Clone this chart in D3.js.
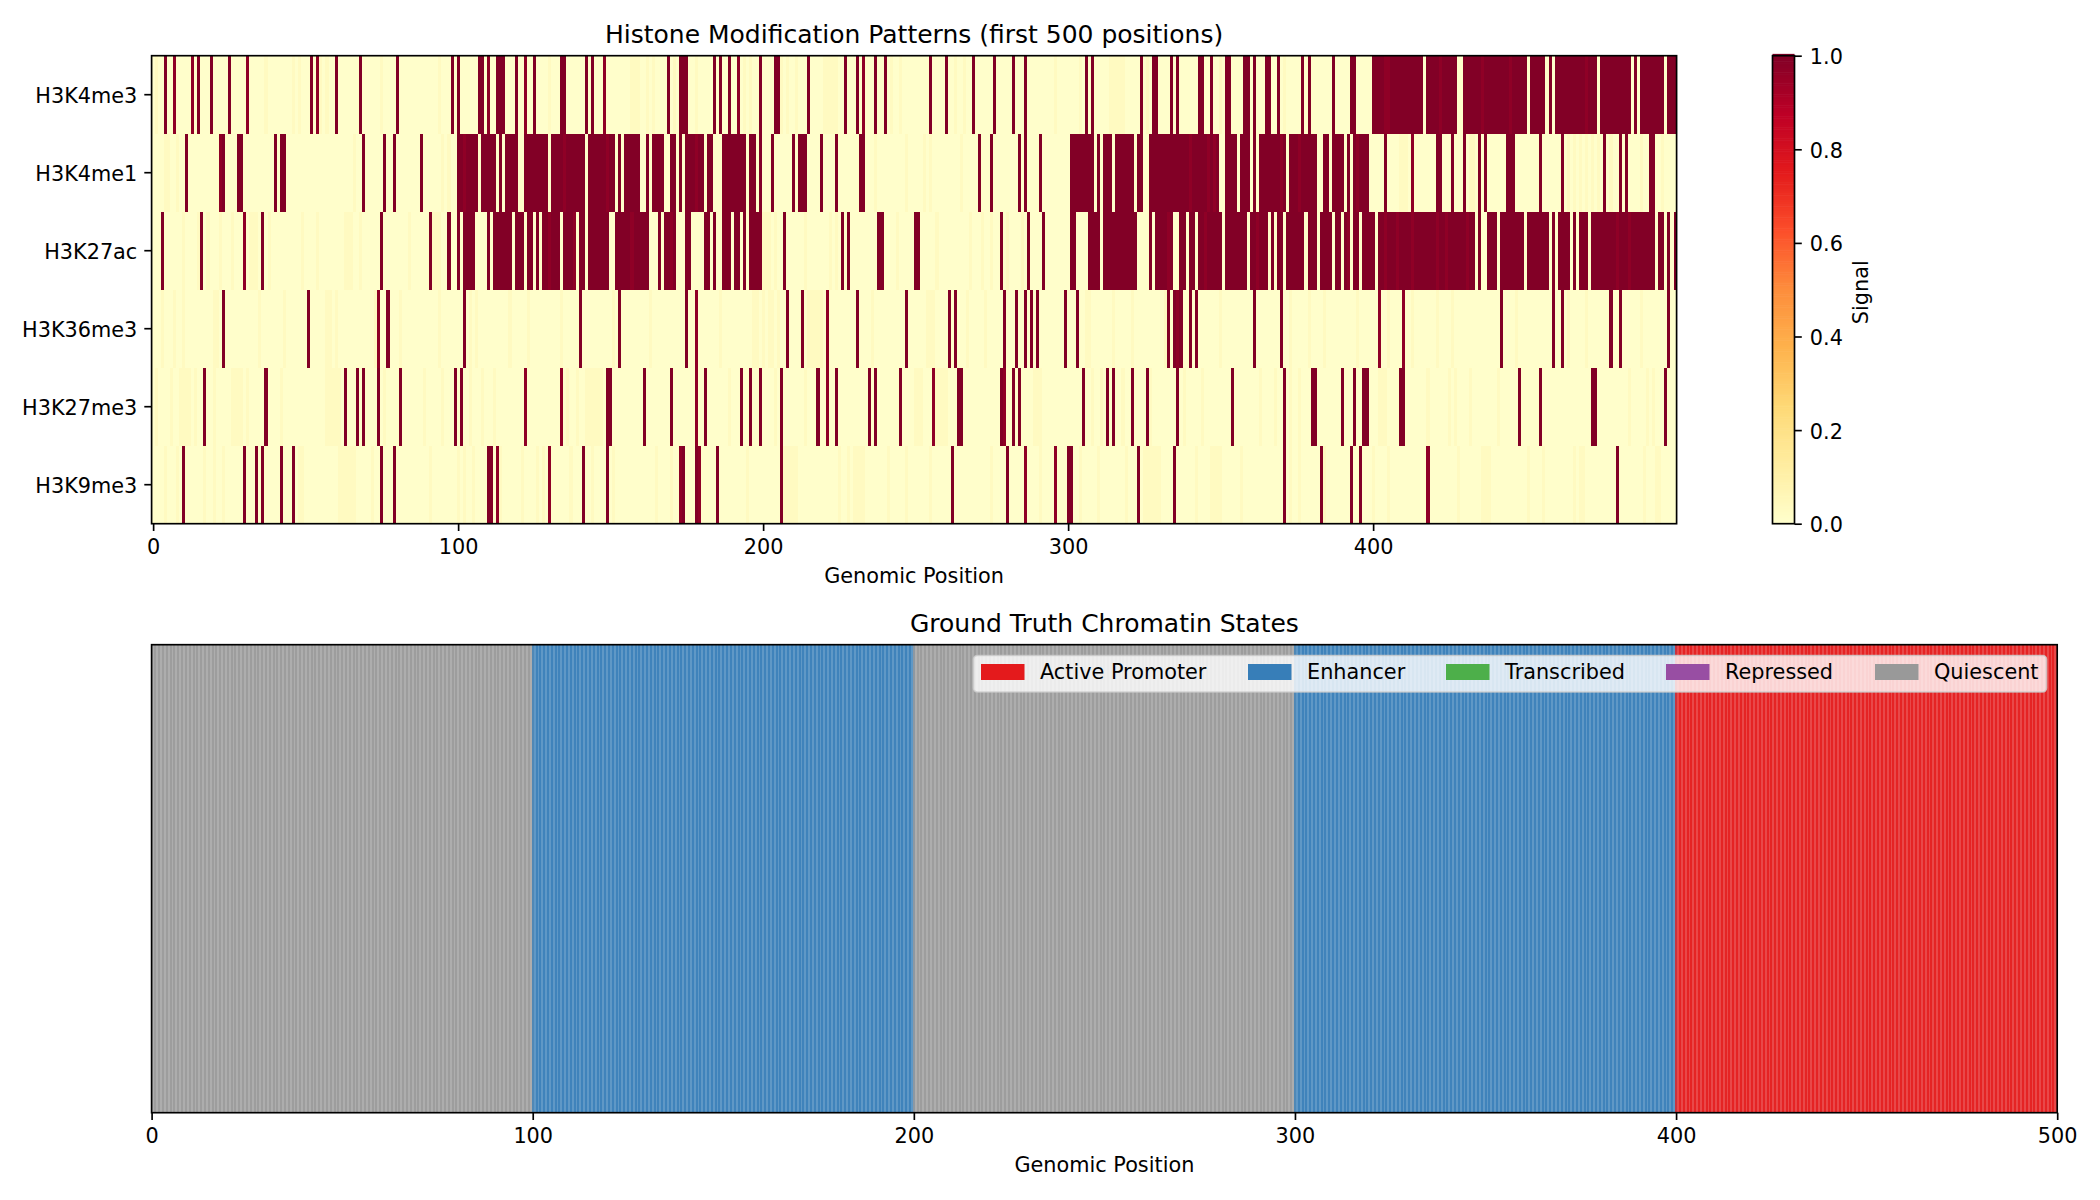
<!DOCTYPE html>
<html>
<head>
<meta charset="utf-8">
<title>Chromatin states</title>
<script src="https://cdn.jsdelivr.net/npm/d3@7/dist/d3.min.js"></script>
<style>
  html, body { margin: 0; padding: 0; background: #fff; }
  svg { display: block; }
  text { font-family: "DejaVu Sans", sans-serif; fill: #000; }
</style>
</head>
<body>
<svg id="chart" width="2100" height="1200"></svg>
<script>
// Histone marks, top row first
const marks = ["H3K4me3", "H3K4me1", "H3K27ac", "H3K36me3", "H3K27me3", "H3K9me3"];

// Positions with a strong signal; a pair is an inclusive run of positions
const h3k4me3Peaks = [4,7,13,15,19,25,31,52,54,60,68,80,98,100,[107,108],110,[113,115],119,122,125,[134,135],142,144,148,169,[173,175],184,186,189,192,199,[204,205],215,227,231,233,237,240,255,260,269,276,282,286,306,308,324,[328,329],334,336,[343,344],347,[352,353],[358,359],361,[365,366],369,377,379,387,[393,394],[400,416],[418,427],[430,450],[452,456],458,[460,473],[475,484],486,[488,495],[497,499]];
const h3k4me1Peaks = [11,[22,23],[28,29],40,[42,43],69,76,79,88,[100,106],[108,112],114,[116,119],[122,129],[131,141],[143,151],153,[155,159],162,[164,167],[170,171],173,[175,180],[182,183],[187,194],[196,197],199,203,210,[212,214],219,224,[232,233],271,275,284,286,291,[301,308],310,[312,314],[316,321],[323,324],[327,349],[352,355],[357,359],361,[363,371],[373,381],[384,385],[387,390],392,[394,398],404,413,[421,422],426,430,435,437,[444,446],455,462,476,481,483,[491,492]];
const h3k27acPeaks = [3,16,30,36,75,91,97,100,[102,105],110,[112,117],[119,121],[123,124],126,[128,133],[135,138],[140,141],[143,149],[152,162],166,[168,171],[175,176],[181,182],184,[187,189],[191,192],194,[196,199],207,226,228,[238,239],[250,251],278,287,292,[301,302],[307,310],[312,322],327,[329,334],[337,338],[340,341],[343,350],[352,358],[360,365],367,[369,370],[372,377],[379,381],[383,386],[388,389],[391,392],[394,395],[397,400],[402,433],435,[438,440],[442,449],[451,457],459,[461,464],466,[468,470],[472,492],[494,495],497,499];
const h3k36me3Peaks = [23,51,74,77,102,140,153,175,178,208,213,221,231,247,261,263,279,283,286,288,290,299,303,333,[335,337],340,342,361,370,402,410,442,459,462,478,481,497];
const h3k27me3Peaks = [17,37,63,67,69,74,81,99,101,122,134,[149,150],161,170,178,181,193,196,199,206,218,221,224,235,237,245,256,[264,265],[278,279],282,284,305,313,315,321,326,336,354,371,[380,381],390,394,[397,398],[409,410],448,455,[472,473],496];
const h3k9me3Peaks = [10,30,34,36,42,46,75,79,[110,111],113,130,141,149,[173,174],[178,179],185,206,262,280,286,296,[300,301],323,335,371,383,393,396,418,480];

// Peak positions whose signal sits slightly below the maximum
const h3k4me3Softer = [7,13,31,54,110,122,148,192,233,404,405,422,436,445,470];
const h3k4me1Softer = [22,102,135,149,178,325,340,346,348,370,376,395,413];
const h3k27acSofter = [30,130,138,157,170,183,333,345,362,392,404,408,413,421,424,431,434,480,484];
const h3k36me3Softer = [74,178,221,336,402,410];
const h3k27me3Softer = [122,134,178,221,256,279,384,449];
const h3k9me3Softer = [113,130,173,179,286,296,418];

// Background positions with a faintly raised signal
const h3k4me3Faint = [1,37,46,48,55,57,75,94,130,157,158,159,162,164,171,178,194,196,206,208,211,220,221,222,223,224,242,245,263,266,296,304,314,315,316,317,318,326,350,371];
const h3k4me1Faint = [4,5,8,66,95,97,237,247,253,255,265,409,410,411,432,433,464,466,468,470,472,474,478,488,495];
const h3k27acFaint = [10,15,18,22,26,32,33,34,38,49,54,63,64,65,68,84,92,93,94,200,201,202,204,214,222,224,244,257,268,272,275,280,285];
const h3k36me3Faint = [3,7,10,20,21,35,43,57,58,60,73,81,94,104,106,117,123,134,151,163,186,197,198,200,203,202,205,215,216,217,218,219,236,254,255,256,267,273,306,307,315,321,332,350,373,379,384,395,405,413,421,426,447,464,470,488];
const h3k27me3Faint = [1,6,9,10,11,12,14,20,26,27,28,29,31,42,57,58,59,60,61,76,89,95,104,108,112,136,139,142,143,144,145,146,147,189,204,214,250,251,252,257,258,259,260,289,290,291,308,311,318,327,338,344,363,368,373,376,402,403,404,418,425,427,432,441,484,490,492];
const h3k9me3Faint = [4,8,17,20,23,48,49,61,62,63,64,65,66,72,91,100,102,105,114,121,126,128,137,144,151,165,170,195,207,208,209,210,211,225,228,230,231,232,233,241,247,255,275,291,304,310,319,325,326,327,328,329,330,342,347,348,349,350,357,373,376,384,400,405,428,436,437,438,451,456,466,468,469,489,493,494];

const peakValue = 0.995;
const softerValue = 0.97;
const faintValue = 0.032;
const backgroundValue = 0.004;

const peakLists = [h3k4me3Peaks, h3k4me1Peaks, h3k27acPeaks, h3k36me3Peaks, h3k27me3Peaks, h3k9me3Peaks];
const softerLists = [h3k4me3Softer, h3k4me1Softer, h3k27acSofter, h3k36me3Softer, h3k27me3Softer, h3k9me3Softer];
const faintLists = [h3k4me3Faint, h3k4me1Faint, h3k27acFaint, h3k36me3Faint, h3k27me3Faint, h3k9me3Faint];

// Chromatin state legend and the ground truth segments
const stateNames = ["Active Promoter", "Enhancer", "Transcribed", "Repressed", "Quiescent"];
const stateColors = ["#e41a1c", "#377eb8", "#4daf4a", "#984ea3", "#999999"];
const segmentStarts = [0, 100, 200, 300, 400];
const segmentStates = ["Quiescent", "Enhancer", "Quiescent", "Enhancer", "Active Promoter"];

// Axis tick labels
const positionTicks = [0, 100, 200, 300, 400];
const stateTicks = [0, 100, 200, 300, 400, 500];
const signalTicks = [0, 0.2, 0.4, 0.6, 0.8, 1];

const positionCount = 500;
const SPINE = 1.67, TICK = 7.3, FONT = 20.8;

const svg = d3.select("#chart");

// YlOrRd, built from its nine ColorBrewer anchors
const ylOrRd = ["#ffffcc","#ffeda0","#fed976","#feb24c","#fd8d3c","#fc4e2a","#e31a1c","#bd0026","#800026"];
const signalColor = d3.scaleLinear()
  .domain(ylOrRd.map((_, i) => i / (ylOrRd.length - 1)))
  .range(ylOrRd)
  .interpolate(d3.interpolateRgb);

function expandRuns(list) {
  return list.flatMap(d => Array.isArray(d) ? d3.range(d[0], d[1] + 1) : [d]);
}

function signalRow(r) {
  const row = new Array(positionCount).fill(backgroundValue);
  faintLists[r].forEach(p => { row[p] = faintValue; });
  expandRuns(peakLists[r]).forEach(p => { row[p] = peakValue; });
  const peaks = new Set(expandRuns(peakLists[r]));
  softerLists[r].forEach(p => { if (peaks.has(p)) row[p] = softerValue; });
  return row;
}

function styleAxis(g) {
  g.select(".domain").remove();
  g.selectAll(".tick line").attr("stroke", "#000").attr("stroke-width", SPINE);
  g.selectAll(".tick text").attr("font-size", FONT).attr("font-family", '"DejaVu Sans", sans-serif').attr("fill", "#000");
}

// Vertical axes sit their labels a little lower than the d3 default
function lowerLabels(g) {
  g.selectAll(".tick text").attr("dy", "0.38em");
}

function frame(x0, y0, x1, y1) {
  svg.append("rect")
    .attr("x", x0).attr("y", y0)
    .attr("width", x1 - x0).attr("height", y1 - y0)
    .attr("fill", "none").attr("stroke", "#000").attr("stroke-width", SPINE);
}

// ---- Heatmap panel ----
const heat = { left: 151.6, right: 1676.6, top: 55.7, bottom: 523.7 };
const heatX = d3.scaleLinear().domain([-0.5, positionCount - 0.5]).range([heat.left, heat.right]);
const heatY = d3.scaleBand().domain(marks).range([heat.top, heat.bottom]);

marks.forEach((mark, r) => {
  svg.append("g").attr("class", "row")
    .selectAll("rect")
    .data(signalRow(r))
    .join("rect")
    .attr("x", (_, i) => Math.round(heatX(i - 0.5)))
    .attr("width", (_, i) => Math.round(heatX(i + 0.5)) - Math.round(heatX(i - 0.5)))
    .attr("y", Math.round(heatY(mark)))
    .attr("height", Math.round(heatY(mark) + heatY.bandwidth()) - Math.round(heatY(mark)))
    .attr("fill", d => signalColor(d))
    .attr("shape-rendering", "crispEdges");
});

frame(heat.left, heat.top, heat.right, heat.bottom);

svg.append("g")
  .attr("transform", `translate(0,${heat.bottom})`)
  .call(d3.axisBottom(heatX).tickValues(positionTicks).tickFormat(d3.format("d")).tickSize(TICK).tickPadding(8))
  .call(styleAxis);

svg.append("g")
  .attr("transform", `translate(${heat.left},0)`)
  .call(d3.axisLeft(heatY).tickSize(TICK).tickPadding(7))
  .call(styleAxis)
  .call(lowerLabels);

svg.append("text")
  .attr("x", (heat.left + heat.right) / 2).attr("y", 43)
  .attr("text-anchor", "middle").attr("font-size", 25)
  .text("Histone Modification Patterns (first 500 positions)");

svg.append("text")
  .attr("x", (heat.left + heat.right) / 2).attr("y", 583)
  .attr("text-anchor", "middle").attr("font-size", FONT)
  .text("Genomic Position");

// ---- Colour bar ----
const bar = { left: 1772.5, right: 1794.5, top: 55.7, bottom: 523.7 };
const barY = d3.scaleLinear().domain([0, 1]).range([bar.bottom, bar.top]);
const barSteps = d3.range(256).map(i => i / 255);

svg.append("g").selectAll("rect")
  .data(barSteps)
  .join("rect")
  .attr("x", bar.left).attr("width", bar.right - bar.left)
  .attr("y", d => barY(d) - (bar.bottom - bar.top) / 255)
  .attr("height", (bar.bottom - bar.top) / 255 + 0.6)
  .attr("fill", d => signalColor(d));

frame(bar.left, bar.top, bar.right, bar.bottom);

svg.append("g")
  .attr("transform", `translate(${bar.right},0)`)
  .call(d3.axisRight(barY).tickValues(signalTicks).tickFormat(d3.format(".1f")).tickSize(TICK).tickPadding(8))
  .call(styleAxis)
  .call(lowerLabels);

svg.append("text")
  .attr("transform", `translate(1868,${(bar.top + bar.bottom) / 2 + 2.5}) rotate(-90)`)
  .attr("text-anchor", "middle").attr("font-size", FONT)
  .text("Signal");

// ---- Ground truth panel ----
const truth = { left: 151.6, right: 2057.2, top: 644.7, bottom: 1112.7 };
const truthX = d3.scaleLinear().domain([0, positionCount]).range([truth.left, truth.right]);
const stateColor = d3.scaleOrdinal().domain(stateNames).range(stateColors);

// Segment lookup for each position
const segmentIndex = d3.bisector(d => d).right;
const positionStates = d3.range(positionCount).map(i => segmentStates[segmentIndex(segmentStarts, i) - 1]);

svg.append("defs").append("clipPath").attr("id", "truth-clip")
  .append("rect")
  .attr("x", truth.left).attr("y", truth.top)
  .attr("width", truth.right - truth.left).attr("height", truth.bottom - truth.top);

// One translucent bar per position; neighbours overlap and deepen along their shared edge
svg.append("g").attr("clip-path", "url(#truth-clip)").selectAll("rect")
  .data(positionStates)
  .join("rect")
  .attr("x", (_, i) => Math.round(truthX(i)) - 1)
  .attr("width", (_, i) => Math.round(truthX(i + 1)) - Math.round(truthX(i)) + 2)
  .attr("y", truth.top).attr("height", truth.bottom - truth.top)
  .attr("fill", d => stateColor(d))
  .attr("fill-opacity", 0.8)
  .attr("shape-rendering", "crispEdges");

frame(truth.left, truth.top, truth.right, truth.bottom);

svg.append("g")
  .attr("transform", `translate(0,${truth.bottom})`)
  .call(d3.axisBottom(truthX).tickValues(stateTicks).tickFormat(d3.format("d")).tickSize(TICK).tickPadding(8))
  .call(styleAxis);

svg.append("text")
  .attr("x", (truth.left + truth.right) / 2).attr("y", 632)
  .attr("text-anchor", "middle").attr("font-size", 25)
  .text("Ground Truth Chromatin States");

svg.append("text")
  .attr("x", (truth.left + truth.right) / 2).attr("y", 1172)
  .attr("text-anchor", "middle").attr("font-size", FONT)
  .text("Genomic Position");

// ---- Legend ----
const legend = svg.append("g");
legend.append("rect")
  .attr("x", 973.5).attr("y", 655.5).attr("width", 1073).attr("height", 36.5).attr("rx", 4)
  .attr("fill", "#fff").attr("fill-opacity", 0.8)
  .attr("stroke", "#ccc").attr("stroke-opacity", 0.8).attr("stroke-width", SPINE);

const swatchLefts = [981, 1248, 1446, 1666, 1875];
stateNames.forEach((name, i) => {
  legend.append("rect")
    .attr("x", swatchLefts[i]).attr("y", 664)
    .attr("width", 43.5).attr("height", 16)
    .attr("fill", stateColors[i]);
  legend.append("text")
    .attr("x", swatchLefts[i] + 59).attr("y", 679)
    .attr("font-size", FONT)
    .text(name);
});
</script>
</body>
</html>
